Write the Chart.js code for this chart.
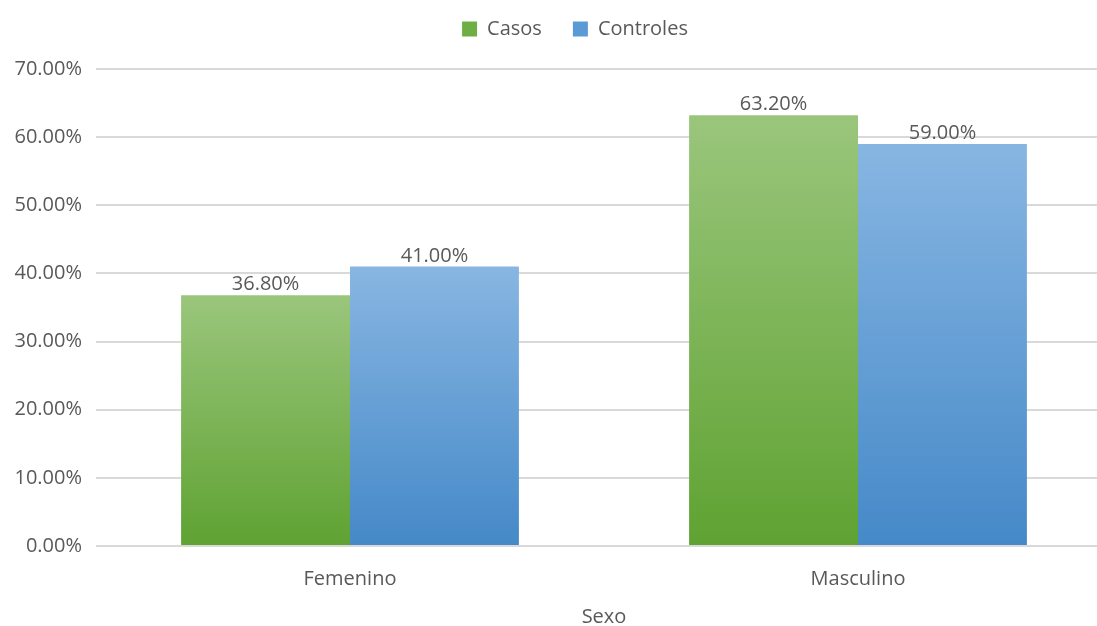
<!DOCTYPE html>
<html>
<head>
<meta charset="utf-8">
<script src="https://cdn.jsdelivr.net/npm/chart.js@4/dist/chart.umd.min.js"></script>
<style>
  html, body { margin: 0; padding: 0; background: #fff; overflow: hidden; }
  #wrap { width: 1115px; height: 626px; }
</style>
</head>
<body>
<div id="wrap"><canvas id="bar_chart" width="1115" height="626"></canvas></div>
<script>
var categories = ["Femenino", "Masculino"];
var casos = [36.8, 63.2];
var controles = [41.0, 59.0];
var yTicks = [0, 10, 20, 30, 40, 50, 60, 70];

var FONT = "'Open Sans', sans-serif";
var GREY = '#595959';
var legendColors = ['#6DAE45', '#5B9BD5'];

// vertical gradient from the bar top down to the zero line
function barGradient(top, bottom, flat) {
    return function(ctx) {
        var chart = ctx.chart;
        if (!chart.chartArea || ctx.raw === undefined) return flat;
        var y = chart.scales.y;
        var g = chart.ctx.createLinearGradient(0, y.getPixelForValue(ctx.raw), 0, y.getPixelForValue(0));
        g.addColorStop(0, top);
        g.addColorStop(1, bottom);
        return g;
    };
}

// percentage labels above each bar
var valueLabels = {
    id: 'valueLabels',
    afterDatasetsDraw: function(chart) {
        var c = chart.ctx;
        c.save();
        c.font = '20px ' + FONT;
        c.fillStyle = GREY;
        c.textAlign = 'center';
        c.textBaseline = 'alphabetic';
        chart.data.datasets.forEach(function(ds, i) {
            chart.getDatasetMeta(i).data.forEach(function(bar, j) {
                c.fillText(ds.data[j].toFixed(2) + '%', bar.x, bar.y - 5);
            });
        });
        c.restore();
    }
};

// taller legend box so the plot starts lower, and nudge the legend right
var legendSpace = {
    id: 'legendSpace',
    afterInit: function(chart) {
        var lg = chart.legend;
        var fit = lg.fit;
        var draw = lg.draw;
        lg.fit = function() {
            fit.call(this);
            this.height = 81;
        };
        lg.draw = function() {
            var c = this.ctx;
            c.save();
            c.translate(19, 0);
            draw.call(this);
            c.restore();
        };
    }
};

var barData = {
    labels: categories,
    datasets: [
        {
            label: "Casos",
            data: casos,
            backgroundColor: barGradient('#9AC67C', '#5FA232', '#6AAD42')
        },
        {
            label: "Controles",
            data: controles,
            backgroundColor: barGradient('#88B6E2', '#4589C8', '#5B9BD5')
        }
    ]
};

var barOptions = {
    responsive: false,
    animation: false,
    categoryPercentage: 0.665,
    barPercentage: 1.0,
    layout: { padding: { top: -12, right: 3, left: 0, bottom: 0 } },
    plugins: {
        legend: {
            position: 'top',
            labels: {
                boxWidth: 15,
                boxHeight: 15,
                padding: 31,
                color: GREY,
                font: { family: FONT, size: 20 },
                generateLabels: function(chart) {
                    var items = Chart.defaults.plugins.legend.labels.generateLabels(chart);
                    items.forEach(function(it, i) {
                        it.fillStyle = legendColors[i];
                        it.strokeStyle = legendColors[i];
                        it.lineWidth = 0;
                    });
                    return items;
                }
            }
        },
        tooltip: { enabled: false }
    },
    scales: {
        x: {
            grid: { display: false },
            border: { display: false },
            ticks: { color: GREY, font: { family: FONT, size: 20 }, padding: 13 },
            title: {
                display: true,
                text: 'Sexo',
                color: GREY,
                font: { family: FONT, size: 20 },
                padding: { top: 8, bottom: -3 }
            },
            afterFit: function(scale) { scale.height = 80; }
        },
        y: {
            min: 0,
            max: 70,
            afterBuildTicks: function(scale) {
                scale.ticks = yTicks.map(function(v) { return { value: v }; });
            },
            grid: { color: '#D9D9D9', lineWidth: 2, drawTicks: false },
            border: { display: false },
            ticks: {
                color: GREY,
                font: { family: FONT, size: 20 },
                padding: 14,
                callback: function(v) { return v.toFixed(2) + '%'; }
            },
            afterFit: function(scale) { scale.width = 96; }
        }
    }
};

var ctx = document.getElementById("bar_chart").getContext("2d");
new Chart(ctx, { type: 'bar', data: barData, options: barOptions, plugins: [valueLabels, legendSpace] });
</script>
</body>
</html>
